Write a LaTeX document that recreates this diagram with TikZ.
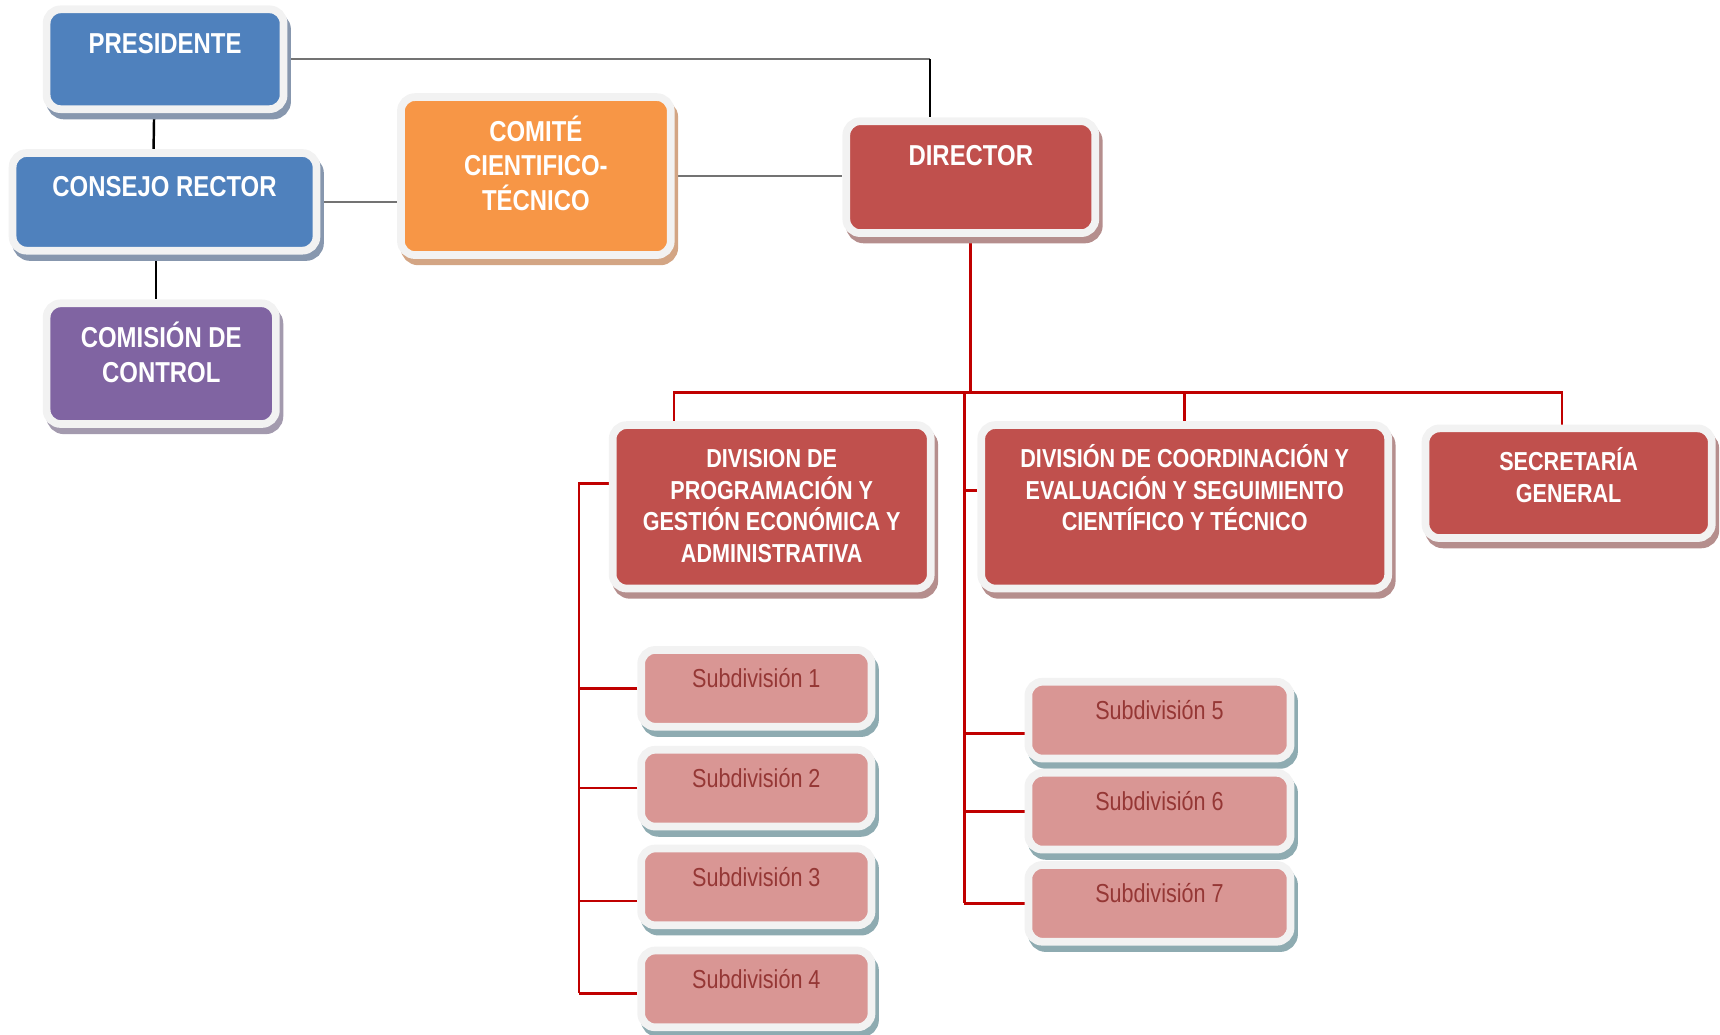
\documentclass[tikz,border=0pt]{standalone}
\usepackage{fontspec}
\setmainfont{Liberation Sans}[FakeStretch=0.83]
\usepackage{tikz}
\usetikzlibrary{positioning, calc, shadows, backgrounds}
\definecolor{boxblue}{HTML}{4F81BD}
\definecolor{blueshadow}{HTML}{8797AE}
\definecolor{boxorange}{HTML}{F79646}
\definecolor{orangeshadow}{HTML}{D3A584}
\definecolor{boxred}{HTML}{C0504D}
\definecolor{redshadow}{HTML}{B58E8D}
\definecolor{boxpurple}{HTML}{8064A2}
\definecolor{purpleshadow}{HTML}{A39AAE}
\definecolor{boxpink}{HTML}{D99694}
\definecolor{pinkshadow}{HTML}{8EABB1}
\definecolor{pinktext}{HTML}{953735}
\definecolor{framegray}{HTML}{F2F2F2}
\definecolor{linered}{HTML}{C00000}
\newcommand{\pxu}{0.01097cm}

\begin{document}
\begin{tikzpicture}[
  x=0.01097cm, y=-0.01097cm,
  box/.style={rounded corners=4pt, line width=2.2pt, draw=framegray},
  bluebox/.style={box, fill=boxblue,
    drop shadow={shadow xshift=1pt, shadow yshift=-1.8pt, opacity=1, fill=blueshadow, draw=blueshadow}},
  orangebox/.style={box, fill=boxorange,
    drop shadow={shadow xshift=1pt, shadow yshift=-1.8pt, opacity=1, fill=orangeshadow, draw=orangeshadow}},
  redbox/.style={box, fill=boxred,
    drop shadow={shadow xshift=1pt, shadow yshift=-1.8pt, opacity=1, fill=redshadow, draw=redshadow}},
  purplebox/.style={box, fill=boxpurple,
    drop shadow={shadow xshift=1pt, shadow yshift=-1.8pt, opacity=1, fill=purpleshadow, draw=purpleshadow}},
  subbox/.style={box, fill=boxpink, minimum height=70*\pxu,
    drop shadow={shadow xshift=1pt, shadow yshift=-1.8pt, opacity=1, fill=pinkshadow, draw=pinkshadow}},
  % #1 = number of lines (anchor base sits on the last line)
  bigtext/.style={font=\bfseries\fontsize{8.2}{9.9}\selectfont, text=white, align=center,
    inner sep=0pt, anchor=base, yshift={-13.6pt-(#1-1)*9.9pt}},
  bigtext/.default=1,
  midtext/.style={font=\bfseries\fontsize{7.4}{9}\selectfont, text=white, align=center,
    inner sep=0pt, anchor=base, yshift={-13.2pt-(#1-1)*9pt}},
  midtext/.default=1,
  subtext/.style={font=\fontsize{7.4}{9}\selectfont, text=pinktext,
    inner sep=0pt, anchor=base, yshift=-11.9pt},
  grayline/.style={draw=black!55, line width=0.6pt},
  blackline/.style={draw=black, line width=0.7pt},
  redline/.style={draw=linered, line width=0.75pt}
]
\useasboundingbox (0,0) rectangle (1568,943);

% governing bodies
\node[bluebox, minimum width=216*\pxu, minimum height=91*\pxu,
  label={[bigtext]north:PRESIDENTE}] (pres) at (150.5,54) {};
\node[bluebox, minimum width=277*\pxu, minimum height=89*\pxu,
  label={[bigtext]north:CONSEJO RECTOR}] (cons) at (150,184) {};
\node[purplebox, minimum width=209*\pxu, minimum height=110*\pxu,
  label={[bigtext=2]north:{COMISIÓN DE\\CONTROL}}] (ctrl) at (147,331.5) {};
\node[orangebox, minimum width=246*\pxu, minimum height=144*\pxu,
  label={[bigtext=3]north:{COMITÉ\\CIENTIFICO-\\TÉCNICO}}] (comite) at (488.5,160.5) {};
\node[redbox, minimum width=227*\pxu, minimum height=102*\pxu,
  label={[bigtext]north:DIRECTOR}] (dir) at (885,161.5) {};

% divisions
\node[redbox, minimum width=290*\pxu, minimum height=149*\pxu,
  label={[midtext=4]north:{DIVISION DE\\PROGRAMACIÓN Y\\GESTIÓN ECONÓMICA Y\\ADMINISTRATIVA}}] (dprog) at (703.5,462) {};
\node[redbox, minimum width=371*\pxu, minimum height=149*\pxu,
  label={[midtext=3]north:{DIVISIÓN DE COORDINACIÓN Y\\EVALUACIÓN Y SEGUIMIENTO\\CIENTÍFICO Y TÉCNICO}}] (dcoord) at (1080,462) {};
\node[redbox, minimum width=261*\pxu, minimum height=100*\pxu,
  label={[midtext=2]north:{SECRETARÍA\\GENERAL}}] (secr) at (1430,440.5) {};

% subdivisions
\foreach \i/\y in {1/627.5, 2/718.5, 3/808.5, 4/901.5}
  \node[subbox, minimum width=210*\pxu, label={[subtext]north:Subdivisión \i}] (sub\i) at (689.5,\y) {};
\foreach \i/\y in {5/656.5, 6/739.5, 7/823.5}
  \node[subbox, minimum width=239*\pxu, label={[subtext]north:Subdivisión \i}] (sub\i) at (1057,\y) {};

\coordinate (pdturn) at ($(dir.north |- pres.east)+(-37,0)$);
\coordinate (bus) at ($(dir.south)+(0,142)$);
\coordinate (lbot) at ($(sub4.west)+(-53,4)$);
\coordinate (rbot) at ($(sub7.west)+(-55,0)$);

\begin{scope}[on background layer]
\draw[blackline] ($(pres.south)+(-10,0)$) -- ($(cons.north)+(-10,0)$);
\draw[blackline] ($(cons.south)+(-8,0)$) -- ($(ctrl.north)+(-5,0)$);
\draw[grayline] (pres.east) -- (pdturn);
\draw[blackline] (pdturn) -- (pdturn |- dir.north);
\draw[grayline] (cons.east) -- (cons.east -| comite.west);
\draw[grayline] (comite.east) -- (comite.east -| dir.west);

\draw[redline] (dir.south) -- (bus);
\draw[redline] ($(dprog.north)+(-89,0)$) |- (bus) -| ($(secr.north)+(-6,0)$);
\draw[redline] (bus -| dcoord.north) -- (dcoord.north);

% left branch
\draw[redline] ($(dprog.west)+(0,-21)$) -| (lbot);
\draw[redline] (sub1.west) -| (lbot);
\draw[redline] (sub2.west) -| (lbot);
\draw[redline] ($(sub3.west)+(0,13)$) -| (lbot);
\draw[redline] ($(sub4.west)+(0,4)$) -- (lbot);

% right branch
\draw[redline] (bus -| rbot) -- (rbot);
\draw[redline] ($(dcoord.west)+(0,-15)$) -| (rbot);
\draw[redline] ($(sub5.west)+(0,12)$) -| (rbot);
\draw[redline] (sub6.west) -| (rbot);
\draw[redline] (sub7.west) -- (rbot);
\end{scope}

\end{tikzpicture}
\end{document}
